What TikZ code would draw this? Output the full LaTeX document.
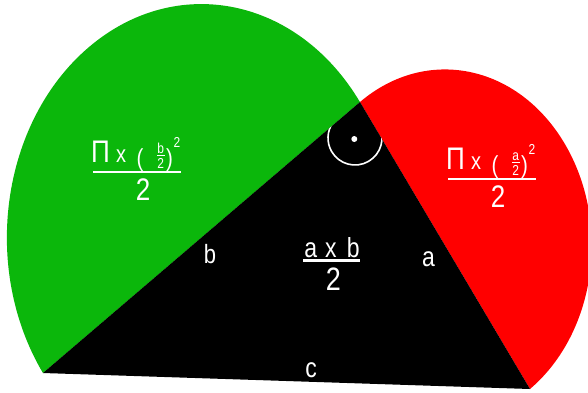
\documentclass[tikz,border=0pt]{standalone}
\usepackage{fontspec}
\usepackage{graphicx}
\setmainfont{Liberation Sans}
\definecolor{grn}{RGB}{11,183,11}
\definecolor{rd}{RGB}{255,0,0}
\newcommand{\vst}[2]{\scalebox{1}[1.2]{\fontsize{#1}{#1}\selectfont #2}}
\newcommand{\halfform}[3]{%
  \begin{scope}[shift={#3}]
    \node[txt] (#1pi) at (100.5,162) {\vst{26}{Π}};
    \node[txt] (#1x) at (121,162) {\vst{20}{x}};
    \node[txt] (#1lp) at (140,166) {\vst{20.5}{(}};
    \node[txt] (#1sn) at (160.7,153) {\vst{12}{#2}};
    \node[txt] (#1sd) at (160.7,168) {\vst{12}{2}};
    \draw[white,line width=1pt] (157,155.8) -- (164.5,155.8);
    \node[txt] (#1rp) at (169.5,166) {\vst{20.5}{)}};
    \node[txt] (#1sq) at (177,147) {\vst{12}{2}};
    \draw[fbar] (93,172) -- (181,172);
    \node[txt] (#1den) at (143,200) {\vst{26}{2}};
  \end{scope}}
\begin{document}
\begin{tikzpicture}[x=1pt,y=-1pt,
  txt/.style={text=white,inner sep=0pt,outer sep=0pt,anchor=base},
  fbar/.style={white,line width=2.5pt}]
\fill[white] (0,0) rectangle (588,392);
\useasboundingbox (0,0) rectangle (588,392);
\clip (0,0) rectangle (588,392);
\coordinate (A) at (43,373);
\coordinate (C) at (360,102);
\coordinate (B) at (530,389);
\begin{scope}[yscale=1.2]
  \fill[grn] (A) arc[start angle=144.53,end angle=324.53,radius=194.6] -- cycle;
  \fill[rd] (C) arc[start angle=234.59,end angle=414.59,radius=146.71] -- cycle;
\end{scope}
\fill[black] (A) -- (C) -- (B) -- cycle;
% right angle mark
\coordinate (ra) at (378.38,124.5);
\begin{scope}
  \clip (A) -- (C) -- (B) -- cycle;
  \draw[white,line width=1.6pt] (ra) arc[start angle=-30,end angle=215,radius=27];
\end{scope}
\fill[white] (354.3,139) circle[radius=3];
% semicircle areas
\halfform{g}{b}{(0,0)}
\halfform{r}{a}{(355,7)}
% triangle area
\node[txt] (ab) at (332,257) {\vst{23}{a\hspace{8.2pt}x\hspace{10.2pt}b}};
\draw[fbar] (303,260.5) -- (360,260.5);
\node[txt] (two) at (333.5,290) {\vst{27}{2}};
% side labels
\node[txt] (lb) at (210,263) {\vst{22}{b}};
\node[txt] (la) at (428.5,266) {\vst{23}{a}};
\node[txt] (lc) at (311,377) {\vst{23}{c}};
\end{tikzpicture}
\end{document}
